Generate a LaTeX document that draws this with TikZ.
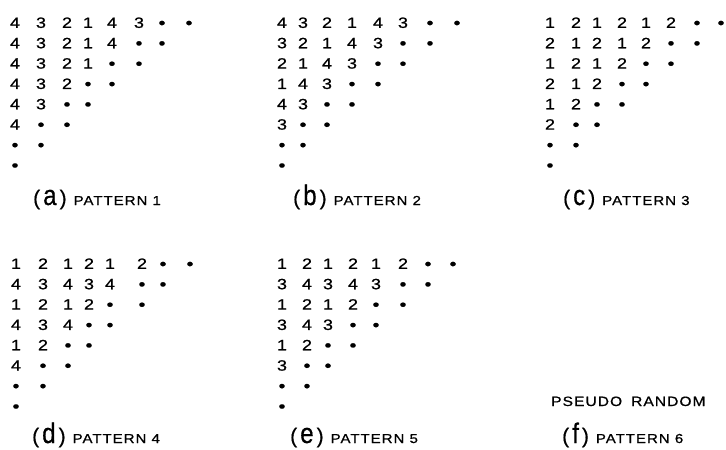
\documentclass[tikz,border=0pt]{standalone}
\usepackage{fontspec}
\usepackage{graphicx}
\newfontfamily\digfamily[FakeStretch=1.2,FakeBold=0.8]{Liberation Sans}
\newfontfamily\capfamily[LetterSpace=8,FakeStretch=1.15,FakeBold=0.8]{Liberation Sans}
\newfontfamily\parfamily[FakeBold=0.6]{Liberation Sans}
\newcommand\bul{\raisebox{-0.6pt}{\scalebox{1.1}{•}}}
\tikzset{
  dig/.style={inner sep=0pt, anchor=base, font=\digfamily\fontsize{15}{15}\selectfont},
  caption/.style={inner sep=0pt, anchor=base west}
}
% #1 panel name, #2 column x positions (array), #3 y of first row centre, #4 rows
\newcommand\drawpattern[4]{%
  \foreach \r [count=\i] in {#4} {
    \foreach \t [count=\j] in \r {
      \pgfmathsetmacro\xx{#2[\j-1]}
      \pgfmathsetmacro\yy{#3+20.35*(\i-1)+5.4}
      \node[dig] (#1-\i-\j) at (\xx,\yy) {\t};
    }
  }%
}
\newcommand\panelcap[2]{{\parfamily\fontsize{21}{21}\selectfont(\hspace{3pt}\scalebox{1.15}[1.35]{#1}\hspace{3pt})}\hspace{7pt}{\capfamily\fontsize{13}{13}\selectfont PATTERN #2}}
\begin{document}
\begin{tikzpicture}[x=1pt,y=-1pt]
\fill[white] (0,0) rectangle (726,450);
\useasboundingbox (0,0) rectangle (726,450);
% (a)
\drawpattern{a}{{15,41,67,88,112,139,162,189}}{22.5}{
  {4,3,2,1,4,3,\bul,\bul},{4,3,2,1,4,\bul,\bul},{4,3,2,1,\bul,\bul},{4,3,2,\bul,\bul},
  {4,3,\bul,\bul},{4,\bul,\bul},{\bul,\bul},{\bul}}
% (b)
\drawpattern{b}{{282,303,327,352,378,403,430,457}}{22.5}{
  {4,3,2,1,4,3,\bul,\bul},{3,2,1,4,3,\bul,\bul},{2,1,4,3,\bul,\bul},{1,4,3,\bul,\bul},
  {4,3,\bul,\bul},{3,\bul,\bul},{\bul,\bul},{\bul}}
% (c)
\drawpattern{c}{{550,576,597,622,646,671,697,721}}{22.5}{
  {1,2,1,2,1,2,\bul,\bul},{2,1,2,1,2,\bul,\bul},{1,2,1,2,\bul,\bul},{2,1,2,\bul,\bul},
  {1,2,\bul,\bul},{2,\bul,\bul},{\bul,\bul},{\bul}}
% (d)
\drawpattern{d}{{16,43,68,89,110,142,163,190}}{263.5}{
  {1,2,1,2,1,2,\bul,\bul},{4,3,4,3,4,\bul,\bul},{1,2,1,2,\bul,\bul},{4,3,4,\bul,\bul},
  {1,2,\bul,\bul},{4,\bul,\bul},{\bul,\bul},{\bul}}
% (e)
\drawpattern{e}{{282,307,328,353,376,403,428,453}}{263.5}{
  {1,2,1,2,1,2,\bul,\bul},{3,4,3,4,3,\bul,\bul},{1,2,1,2,\bul,\bul},{3,4,3,\bul,\bul},
  {1,2,\bul,\bul},{3,\bul,\bul},{\bul,\bul},{\bul}}
% captions
\node[caption] (capa) at (33,205) {\panelcap{a}{1}};
\node[caption] (capb) at (293,205) {\panelcap{b}{2}};
\node[caption] (capc) at (563,205) {\panelcap{c}{3}};
\node[caption] (capd) at (32,443) {\panelcap{d}{4}};
\node[caption] (cape) at (290,443) {\panelcap{e}{5}};
\node[caption] (capf) at (562,443) {\panelcap{f}{6}};
\node[caption] (pseudo) at (551,406) {\capfamily\fontsize{13.5}{13.5}\selectfont PSEUDO\hspace{9pt}RANDOM};
\end{tikzpicture}
\end{document}
